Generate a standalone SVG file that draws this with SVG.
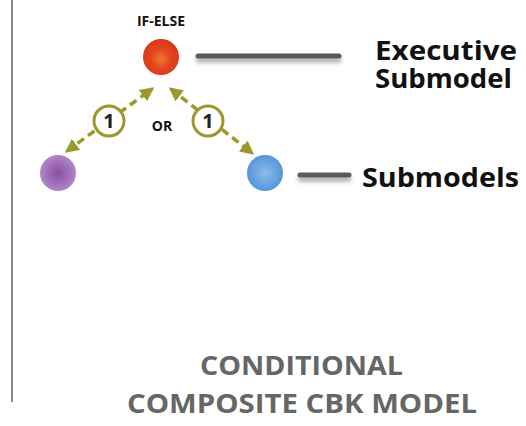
<svg xmlns="http://www.w3.org/2000/svg" width="526" height="426" viewBox="0 0 526 426">
  <style>
    .lbl { font-family: "Open Sans", "Liberation Sans", sans-serif; font-weight: 700; fill: #111; }
    .big { font-size: 27px; }
    .title { font-family: "Open Sans", "Liberation Sans", sans-serif; font-weight: 700; fill: #666; font-size: 26px; }
    .link { stroke: #9a9a2c; stroke-width: 3.5; stroke-dasharray: 8 5; fill: none; }
    .count { fill: #fff; stroke: #9a9a2c; stroke-width: 3; }
    .count-text { font-family: "Open Sans", "Liberation Sans", sans-serif; font-weight: 700; font-size: 20px; fill: #222; text-anchor: middle; }
    .leader { stroke: #5a5a5a; stroke-width: 5; stroke-linecap: round; }
    .leader-shadow { stroke: #000; stroke-opacity: 0.35; stroke-width: 5; stroke-linecap: round; filter: url(#soft); }
  </style>
  <defs>
    <radialGradient id="gRed" cx="0.5" cy="0.55" r="0.55">
      <stop offset="0" stop-color="#ee7a2a"/>
      <stop offset="0.5" stop-color="#e4461f"/>
      <stop offset="1" stop-color="#d8361c"/>
    </radialGradient>
    <radialGradient id="gPurple" cx="0.5" cy="0.5" r="0.55">
      <stop offset="0" stop-color="#8a4ea2"/>
      <stop offset="1" stop-color="#b48ccc"/>
    </radialGradient>
    <radialGradient id="gBlue" cx="0.5" cy="0.5" r="0.55">
      <stop offset="0" stop-color="#8cbcea"/>
      <stop offset="1" stop-color="#4f92d8"/>
    </radialGradient>
    <filter id="soft" filterUnits="userSpaceOnUse" x="0" y="0" width="526" height="426">
      <feGaussianBlur stdDeviation="2"/>
    </filter>
    <marker id="head" viewBox="0 0 10 10" refX="8" refY="5" markerWidth="4" markerHeight="4" orient="auto-start-reverse" markerUnits="strokeWidth">
      <path d="M0,0 L10,5 L0,10 z" fill="#9a9a2c"/>
    </marker>
  </defs>

  <!-- frame rule on the left -->
  <line x1="12" y1="0" x2="12" y2="402" stroke="#8a8a8a" stroke-width="2"/>

  <!-- connectors -->
  <g id="connectors">
    <line class="link" x1="67" y1="151" x2="152" y2="89" marker-start="url(#head)" marker-end="url(#head)"/>
    <line class="link" x1="171" y1="89" x2="252" y2="153" marker-start="url(#head)" marker-end="url(#head)"/>
    <circle class="count" cx="109" cy="121" r="15"/>
    <text class="count-text" x="109" y="128">1</text>
    <circle class="count" cx="208" cy="121" r="15"/>
    <text class="count-text" x="208" y="128">1</text>
    <text class="lbl" x="162" y="131" font-size="14" text-anchor="middle">OR</text>
  </g>

  <!-- executive submodel -->
  <g id="executive">
    <text class="lbl" x="161" y="26" font-size="14" text-anchor="middle">IF-ELSE</text>
    <circle cx="161" cy="57" r="18" fill="url(#gRed)"/>
    <line class="leader-shadow" x1="198" y1="60" x2="339" y2="60"/>
    <line class="leader" x1="198" y1="56" x2="339" y2="56"/>
    <text class="lbl big" x="375" y="60" textLength="142" lengthAdjust="spacingAndGlyphs">Executive</text>
    <text class="lbl big" x="375" y="88" textLength="137" lengthAdjust="spacingAndGlyphs">Submodel</text>
  </g>

  <!-- submodels -->
  <g id="submodel-left">
    <circle cx="58" cy="173" r="18" fill="url(#gPurple)"/>
  </g>
  <g id="submodel-right">
    <circle cx="265" cy="173" r="18" fill="url(#gBlue)"/>
    <line class="leader-shadow" x1="300" y1="179" x2="349" y2="179"/>
    <line class="leader" x1="300" y1="175" x2="349" y2="175"/>
    <text class="lbl big" x="362" y="187" textLength="157" lengthAdjust="spacingAndGlyphs">Submodels</text>
  </g>

  <!-- caption -->
  <g id="caption">
    <text class="title" x="200" y="375" textLength="203" lengthAdjust="spacingAndGlyphs">CONDITIONAL</text>
    <text class="title" x="127" y="413" textLength="350" lengthAdjust="spacingAndGlyphs">COMPOSITE CBK MODEL</text>
  </g>
</svg>
